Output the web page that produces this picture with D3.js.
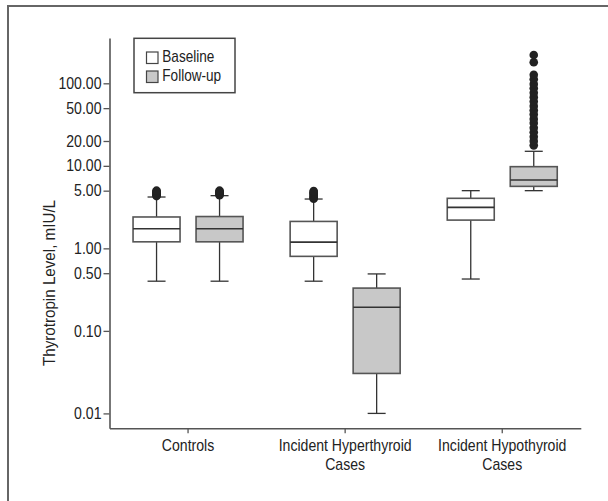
<!DOCTYPE html>
<html>
<head>
<meta charset="utf-8">
<script src="https://cdn.jsdelivr.net/npm/d3@7"></script>
<style>
  body { margin: 0; background: #fff; }
  text { font-family: "Liberation Sans", Arial, sans-serif; fill: #222; }
</style>
</head>
<body>
<svg id="chart" width="608" height="501"></svg>
<script>
// categories (a \n marks the line break of the axis label)
var categories = ["Controls", "Incident Hyperthyroid\nCases", "Incident Hypothyroid\nCases"];
var series = ["Baseline", "Follow-up"];
var tickValues = [0.01, 0.1, 0.5, 1, 5, 10, 20, 50, 100];

// [lower whisker, Q1, median, Q3, upper whisker] for each category
var baselineBoxes = [
  [0.40, 1.20, 1.73, 2.40, 4.19],
  [0.40, 0.80, 1.19, 2.12, 3.96],
  [0.425, 2.20, 3.14, 4.04, 5.0]
];
var followupBoxes = [
  [0.40, 1.20, 1.73, 2.43, 4.35],
  [0.01, 0.0305, 0.193, 0.33, 0.49],
  [5.0, 5.64, 6.73, 9.77, 15.0]
];
var baselineOutliers = [
  [4.3, 4.4, 4.5, 4.6, 4.7, 4.8, 4.9, 5.0],
  [4.0, 4.1, 4.2, 4.35, 4.5, 4.65, 4.8, 4.95],
  []
];
var followupOutliers = [
  [4.4, 4.5, 4.6, 4.7, 4.8, 4.9, 5.0],
  [],
  [17.7, 20, 22.5, 25.5, 29, 33, 37, 42, 47, 53, 60, 68, 77, 87, 98, 112, 127, 180, 220]
];
var seriesFill = ["#ffffff", "#c8c8c8"];

var svg = d3.select("#chart");

// squeeze a text horizontally around its anchor to get a condensed face
function condense(sel, sx) {
  sel.each(function () {
    var t = d3.select(this);
    var tx = +t.attr("x") || 0, ty = +t.attr("y") || 0;
    t.attr("x", 0).attr("y", 0)
      .attr("transform", "translate(" + tx + "," + ty + ") scale(" + sx + ",1)");
  });
}

// outer frame (runs off the right and bottom of the picture)
svg.append("rect").attr("x", 8).attr("y", 6).attr("width", 640).attr("height", 540)
  .attr("fill", "none").attr("stroke", "#666").attr("stroke-width", 2);

var x = d3.scaleBand().domain(categories).range([109.5, 580.8]);
var xSub = d3.scalePoint().domain(series).range([-31.5, 31.5]);
var y = d3.scaleLog().domain([0.0066, 354]).range([428.3, 38]);
var boxW = 47, capW = 18;

// axes
var yAxisG = svg.append("g").attr("transform", "translate(109.5,0)")
  .call(d3.axisLeft(y).tickValues(tickValues).tickFormat(d3.format(".2f"))
    .tickSize(6).tickSizeOuter(0).tickPadding(2));
var xAxisG = svg.append("g").attr("transform", "translate(0,428.3)")
  .call(d3.axisBottom(x).tickSize(5).tickSizeOuter(0).tickPadding(6.5));

[yAxisG, xAxisG].forEach(function (g) {
  g.select(".domain").attr("stroke", "#555").attr("stroke-width", 1.6);
  g.selectAll(".tick line").attr("stroke", "#555").attr("stroke-width", 1.3);
  g.selectAll("text").attr("font-size", 16).attr("fill", "#222")
    .style("font-family", "'Liberation Sans', Arial, sans-serif");
});
condense(yAxisG.selectAll(".tick text"), 0.88);

// two-line category labels
xAxisG.selectAll(".tick text").each(function (d) {
  var t = d3.select(this).text(null);
  d.split("\n").forEach(function (line, i) {
    t.append("tspan").attr("x", 0).attr("dy", i == 0 ? "0.71em" : 18.5).text(line);
  });
});
condense(xAxisG.selectAll(".tick text"), 0.88);

// y title
var title = svg.append("text")
  .attr("text-anchor", "middle").attr("dy", "0.35em")
  .attr("font-size", 16.5)
  .text("Thyrotropin Level, mIU/L");
title.attr("transform", "translate(49,283) rotate(-90) scale(0.92,1)");

// boxes
function drawBoxes(boxes, outliers, si) {
  boxes.forEach(function (b, ci) {
    var cx = x(categories[ci]) + x.bandwidth() / 2 + xSub(series[si]);
    var g = svg.append("g");
    // whiskers
    g.append("line").attr("x1", cx).attr("x2", cx).attr("y1", y(b[0])).attr("y2", y(b[1]))
      .attr("stroke", "#333").attr("stroke-width", 1.3);
    g.append("line").attr("x1", cx).attr("x2", cx).attr("y1", y(b[3])).attr("y2", y(b[4]))
      .attr("stroke", "#333").attr("stroke-width", 1.3);
    [b[0], b[4]].forEach(function (v) {
      g.append("line").attr("x1", cx - capW / 2).attr("x2", cx + capW / 2)
        .attr("y1", y(v)).attr("y2", y(v)).attr("stroke", "#333").attr("stroke-width", 1.3);
    });
    g.append("rect").attr("x", cx - boxW / 2).attr("width", boxW)
      .attr("y", y(b[3])).attr("height", y(b[1]) - y(b[3]))
      .attr("fill", seriesFill[si]).attr("stroke", "#555").attr("stroke-width", 1.6);
    g.append("line").attr("x1", cx - boxW / 2).attr("x2", cx + boxW / 2)
      .attr("y1", y(b[2])).attr("y2", y(b[2])).attr("stroke", "#333").attr("stroke-width", 1.6);
    g.selectAll("circle").data(outliers[ci]).enter().append("circle")
      .attr("cx", cx).attr("cy", function (d) { return y(d); }).attr("r", 4.3)
      .attr("fill", "#222");
  });
}
drawBoxes(baselineBoxes, baselineOutliers, 0);
drawBoxes(followupBoxes, followupOutliers, 1);

// legend
var legend = svg.append("g");
legend.append("rect").attr("x", 134).attr("y", 38.3).attr("width", 101).attr("height", 54.4)
  .attr("fill", "#fff").attr("stroke", "#444").attr("stroke-width", 1.5);
series.forEach(function (s, i) {
  legend.append("rect").attr("x", 146.5).attr("y", 52 + i * 19).attr("width", 11.5).attr("height", 11.5)
    .attr("fill", seriesFill[i]).attr("stroke", "#444").attr("stroke-width", 1.2);
  var t = legend.append("text").attr("x", 162.3).attr("y", 62 + i * 19).attr("font-size", 16).text(s);
  condense(t, 0.85);
});
</script>
</body>
</html>
